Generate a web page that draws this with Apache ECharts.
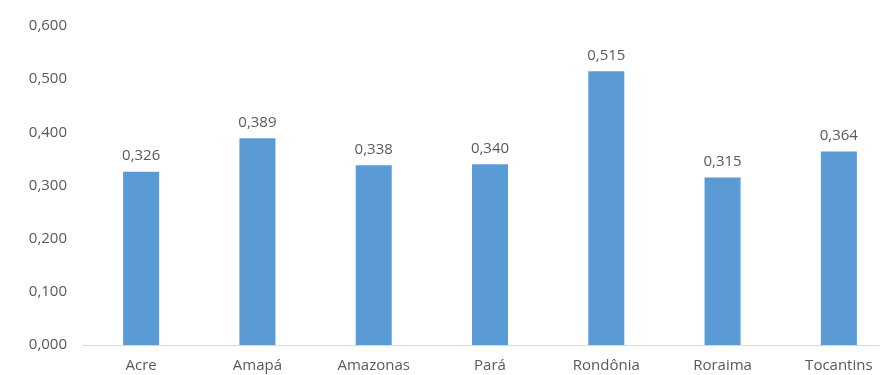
<!DOCTYPE html>
<html>
<head>
<meta charset="utf-8">
<script src="https://cdn.jsdelivr.net/npm/echarts@6/dist/echarts.min.js"></script>
<style>
  html, body { margin: 0; padding: 0; background: #fff; }
  #chart { width: 880px; height: 375px; }
</style>
</head>
<body>
<div id="chart"></div>
<script>
const states = ["Acre", "Amapá", "Amazonas", "Pará", "Rondônia", "Roraima", "Tocantins"];
const values = [0.326, 0.389, 0.338, 0.340, 0.515, 0.315, 0.364];

const fmt = (v) => v.toFixed(3).replace(".", ",");
const textColor = "#595959";
const font = "'Open Sans', sans-serif";

const chart = echarts.init(document.getElementById("chart"));
chart.setOption({
  backgroundColor: "#ffffff",
  animation: false,
  grid: { left: 83, right: -17, top: 26, bottom: 30, outerBoundsMode: "none" },
  xAxis: {
    type: "category",
    data: states,
    axisLine: { lineStyle: { color: "#d9d9d9", width: 1 } },
    axisTick: { show: false },
    axisLabel: { color: textColor, fontFamily: font, fontSize: 15, margin: 13 },
  },
  yAxis: {
    type: "value",
    min: 0,
    max: 0.6,
    interval: 0.1,
    axisLine: { show: false },
    axisTick: { show: false },
    splitLine: { show: false },
    axisLabel: {
      color: textColor,
      fontFamily: font,
      fontSize: 15,
      margin: 16,
      formatter: (v) => fmt(v),
    },
  },
  series: [
    {
      type: "bar",
      data: values,
      barWidth: "31%",
      itemStyle: { color: "#5b9bd5" },
      label: {
        show: true,
        position: "top",
        distance: 8,
        color: textColor,
        fontFamily: font,
        fontSize: 15,
        formatter: (p) => fmt(p.value),
      },
    },
  ],
});
</script>
</body>
</html>
